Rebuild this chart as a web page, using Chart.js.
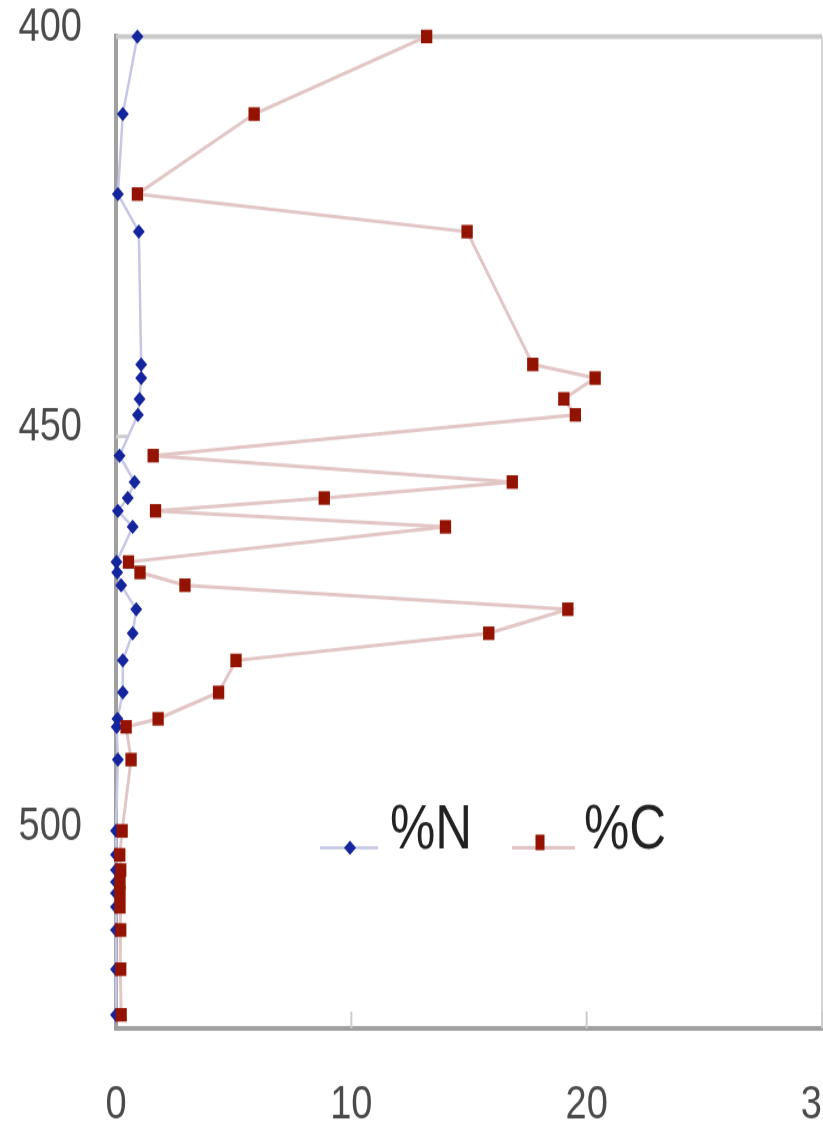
<!DOCTYPE html>
<html>
<head>
<meta charset="utf-8">
<script src="https://cdn.jsdelivr.net/npm/chart.js@4.4.1/dist/chart.umd.min.js"></script>
<style>
  html, body { margin: 0; padding: 0; background: #fff; overflow: hidden; width: 823px; height: 1121px; }
  #wrap { position: absolute; left: 0; top: 0; width: 850px; height: 935px; transform: scaleY(1.2); transform-origin: 0 0; }
  canvas { display: block; }
</style>
</head>
<body>
<div id="wrap"><canvas id="profile" width="850" height="935"></canvas></div>
<script>
// Sample depths (cm) and measured contents (%)
const depths = [400, 409.7, 419.7, 424.4, 441.0, 442.7, 445.3, 447.3, 452.4, 455.7, 457.7, 459.3, 461.3,
  465.7, 467.0, 468.6, 471.6, 474.6, 478.0, 482.0, 485.3, 486.3, 490.4, 499.3, 502.3, 504.2, 505.7,
  507.1, 508.8, 511.7, 516.6, 522.3];
const nitrogen = [0.91, 0.29, 0.08, 0.97, 1.07, 1.07, 1.0, 0.93, 0.15, 0.79, 0.5, 0.08, 0.71,
  0.02, 0.05, 0.22, 0.86, 0.71, 0.29, 0.29, 0.06, 0.03, 0.08, 0.0, 0.0, 0.0, 0.0,
  0.0, 0.0, 0.0, 0.0, 0.0];
const carbon = [13.2, 5.87, 0.91, 14.92, 17.71, 20.36, 19.03, 19.52, 1.58, 16.84, 8.85, 1.68, 14.0,
  0.53, 1.02, 2.93, 19.2, 15.84, 5.1, 4.36, 1.79, 0.43, 0.64, 0.26, 0.16, 0.2, 0.17,
  0.17, 0.17, 0.2, 0.2, 0.22];
const seriesNames = ['%N', '%C'];
const xTicks = [0, 10, 20, 30];
const yTicks = [400, 450, 500];

const FONT = 'Liberation Sans, Arial, sans-serif';
const BLUE = '#15259e', BLUE_LINE = '#c6c7e6';
const RED = '#941300', RED_LINE = '#e2c6c6';

// Plot frame (top/right), inward tick marks and the in-plot legend
const decor = {
  id: 'decor',
  beforeDatasetsDraw(chart) {
    const { ctx, chartArea: a, scales: { x, y } } = chart;
    ctx.save();
    ctx.strokeStyle = '#c9c9c9';
    ctx.lineWidth = 4;
    ctx.beginPath(); ctx.moveTo(a.left, a.top); ctx.lineTo(a.right, a.top); ctx.stroke();
    ctx.lineWidth = 1.5;
    ctx.beginPath(); ctx.moveTo(a.right, a.top); ctx.lineTo(a.right, a.bottom); ctx.stroke();
    ctx.strokeStyle = '#cccccc';
    ctx.lineWidth = 2;
    xTicks.slice(1).forEach(v => {
      const px = x.getPixelForValue(v);
      ctx.beginPath(); ctx.moveTo(px, a.bottom); ctx.lineTo(px, a.bottom - 14); ctx.stroke();
    });
    ctx.lineWidth = 3;
    yTicks.slice(1).forEach(v => {
      const py = y.getPixelForValue(v);
      ctx.beginPath(); ctx.moveTo(a.left, py); ctx.lineTo(a.left + 11, py); ctx.stroke();
    });
    ctx.restore();
  },
  afterDraw(chart) {
    const { ctx } = chart;
    ctx.save();
    const ly = 706.5;
    // %N entry
    ctx.strokeStyle = BLUE_LINE; ctx.lineWidth = 2.5;
    ctx.beginPath(); ctx.moveTo(320, ly); ctx.lineTo(378, ly); ctx.stroke();
    ctx.fillStyle = BLUE;
    ctx.beginPath(); ctx.moveTo(350, ly - 6); ctx.lineTo(356, ly); ctx.lineTo(350, ly + 6); ctx.lineTo(344, ly); ctx.closePath(); ctx.fill();
    // %C entry
    ctx.strokeStyle = RED_LINE; ctx.lineWidth = 3;
    ctx.beginPath(); ctx.moveTo(512, ly); ctx.lineTo(575, ly); ctx.stroke();
    ctx.fillStyle = RED;
    ctx.fillRect(535.5, ly - 11, 9, 13);
    ctx.fillStyle = '#222';
    ctx.font = '51px ' + FONT;
    ctx.textBaseline = 'middle';
    ctx.textAlign = 'left';
    ctx.fillText(seriesNames[0], 390, 693);
    ctx.fillText(seriesNames[1], 584, 693);
    ctx.restore();
  }
};

new Chart(document.getElementById('profile'), {
  type: 'line',
  data: {
    datasets: [
      {
        label: seriesNames[0],
        data: depths.map((d, i) => ({ x: nitrogen[i], y: d })),
        borderColor: BLUE_LINE, borderWidth: 2.5,
        pointStyle: 'rectRot', pointRadius: 6, pointBorderWidth: 0,
        pointBackgroundColor: BLUE, pointBorderColor: BLUE,
        tension: 0, clip: false, order: 1
      },
      {
        label: seriesNames[1],
        data: depths.map((d, i) => ({ x: carbon[i], y: d })),
        borderColor: RED_LINE, borderWidth: 3,
        pointStyle: 'rect', pointRadius: 8, pointBorderWidth: 0,
        pointBackgroundColor: RED, pointBorderColor: RED,
        tension: 0, clip: false, order: 0
      }
    ]
  },
  options: {
    responsive: false,
    animation: false,
    devicePixelRatio: 1,
    layout: { padding: { top: 30.4, right: 28, bottom: 0, left: 0 } },
    plugins: { legend: { display: false }, tooltip: { enabled: false } },
    scales: {
      x: {
        type: 'linear', position: 'bottom', min: 0, max: 30,
        afterBuildTicks(s) { s.ticks = xTicks.map(v => ({ value: v })); },
        afterFit(s) { s.paddingLeft = 0; s.paddingRight = 0; s.height = 78; },
        grid: { drawOnChartArea: false, drawTicks: false },
        border: { color: '#a0a0a0', width: 4 },
        ticks: { padding: 42, color: '#4a4a4a', font: { family: FONT, size: 38 }, maxRotation: 0, autoSkip: false }
      },
      y: {
        type: 'linear', position: 'left', min: 400, max: 524, reverse: true,
        afterBuildTicks(s) { s.ticks = yTicks.map(v => ({ value: v })); },
        afterFit(s) { s.width = 116; s.paddingTop = 0; s.paddingBottom = 0; },
        grid: { drawOnChartArea: false, drawTicks: false },
        border: { color: '#a0a0a0', width: 4 },
        ticks: { padding: 34, labelOffset: -7, color: '#4a4a4a', font: { family: FONT, size: 38 }, autoSkip: false }
      }
    }
  },
  plugins: [decor]
});
</script>
</body>
</html>
